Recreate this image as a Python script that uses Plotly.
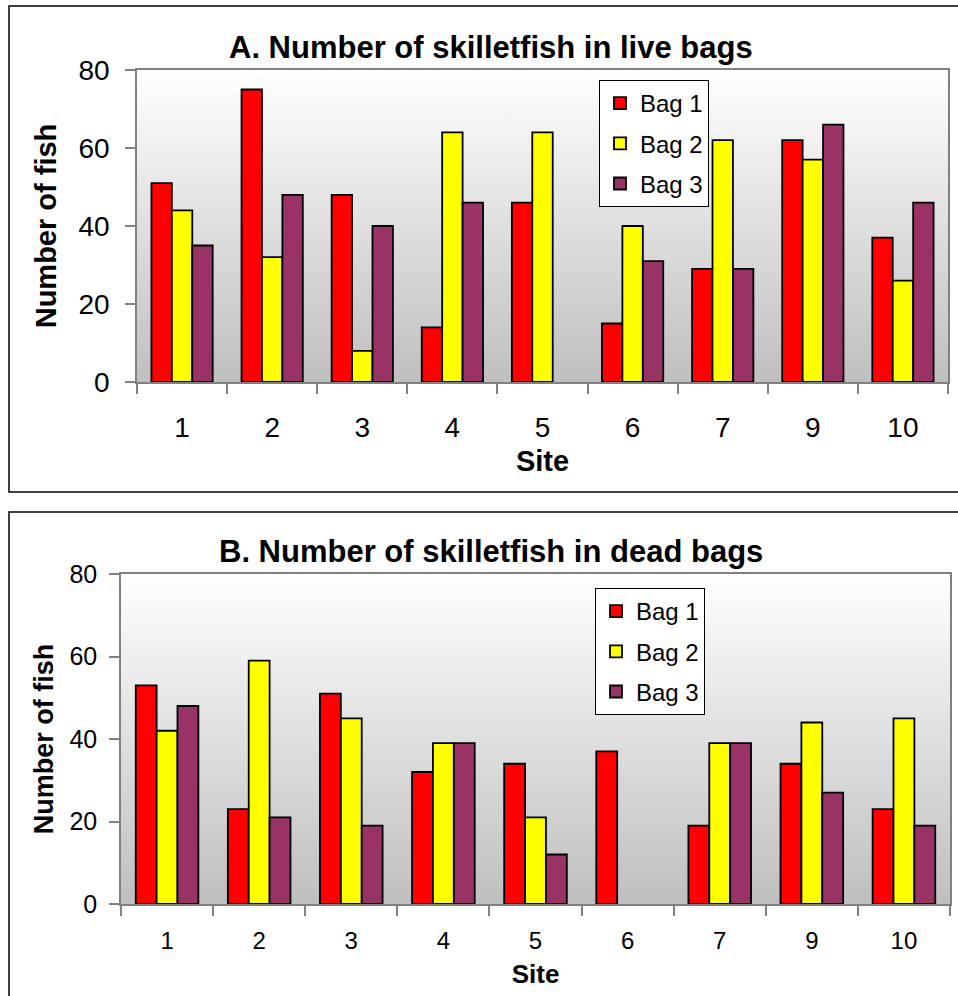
import base64
import plotly.graph_objects as go

sites = ["1", "2", "3", "4", "5", "6", "7", "9", "10"]
bag_names = ["Bag 1", "Bag 2", "Bag 3"]
bag_colors = ["#FF0000", "#FFFF00", "#993366"]

live_bag1 = [51, 75, 48, 14, 46, 15, 29, 62, 37]
live_bag2 = [44, 32, 8, 64, 64, 40, 62, 57, 26]
live_bag3 = [35, 48, 40, 46, 0, 31, 29, 66, 46]

dead_bag1 = [53, 23, 51, 32, 34, 37, 19, 34, 23]
dead_bag2 = [42, 59, 45, 39, 21, 0, 39, 44, 45]
dead_bag3 = [48, 21, 19, 39, 12, 0, 39, 27, 19]

y_ticks = [0, 20, 40, 60, 80]

W, H = 958, 996
FONT = "Liberation Sans, Arial, sans-serif"

def px_x(p):
    return p / W

def px_y(p):
    return 1 - p / H

def nz(vals):
    # zero-height bars are not drawn (no outline line on the axis)
    return [v if v != 0 else None for v in vals]

fig = go.Figure()

live = [live_bag1, live_bag2, live_bag3]
dead = [dead_bag1, dead_bag2, dead_bag3]
for i, name in enumerate(bag_names):
    fig.add_trace(go.Bar(
        x=sites, y=nz(live[i]), name=name, xaxis="x", yaxis="y",
        marker=dict(color=bag_colors[i], line=dict(color="#000000", width=1.8)),
        legend="legend", legendgroup="a" + str(i)))
for i, name in enumerate(bag_names):
    fig.add_trace(go.Bar(
        x=sites, y=nz(dead[i]), name=name, xaxis="x2", yaxis="y2",
        marker=dict(color=bag_colors[i], line=dict(color="#000000", width=1.8)),
        legend="legend2", legendgroup="b" + str(i)))

svg = ('<svg xmlns="http://www.w3.org/2000/svg" width="100" height="100" preserveAspectRatio="none">'
       '<defs><linearGradient id="g" x1="0" y1="0" x2="0" y2="1">'
       '<stop offset="0" stop-color="#ffffff"/><stop offset="1" stop-color="#bfbfbf"/>'
       '</linearGradient></defs><rect width="100" height="100" fill="url(#g)"/></svg>')
src = "data:image/svg+xml;base64," + base64.b64encode(svg.encode()).decode()

images = []
for xr, yr in [("x domain", "y domain"), ("x2 domain", "y2 domain")]:
    images.append(dict(source=src, xref=xr, yref=yr, x=0, y=1, sizex=1, sizey=1,
                       xanchor="left", yanchor="top", sizing="stretch", layer="below"))

shapes = [
    dict(type="rect", xref="paper", yref="paper", x0=px_x(9), x1=px_x(975), y0=px_y(492), y1=px_y(6),
         line=dict(color="#000000", width=1.5), fillcolor="rgba(0,0,0,0)", layer="below"),
    dict(type="rect", xref="paper", yref="paper", x0=px_x(9), x1=px_x(975), y0=px_y(1010), y1=px_y(512),
         line=dict(color="#000000", width=1.5), fillcolor="rgba(0,0,0,0)", layer="below"),
]

def xaxis(domain, anchor, size, tsize, lstand, tstand):
    return dict(domain=domain, anchor=anchor, type="category", tickson="boundaries",
                ticks="outside", ticklen=10, tickcolor="#808080", tickwidth=1.5,
                showline=True, linecolor="#808080", linewidth=1.5, mirror=True,
                showgrid=False, automargin=False, ticklabelstandoff=lstand,
                tickfont=dict(family=FONT, size=size, color="#000000"),
                title=dict(text="<b>Site</b>", font=dict(family=FONT, size=tsize, color="#000000"),
                           standoff=tstand))

def yaxis(domain, anchor, size, tsize, lstand, tstand):
    return dict(domain=domain, anchor=anchor, range=[0, 80], tickvals=y_ticks,
                ticks="outside", ticklen=10, tickcolor="#808080", tickwidth=1.5,
                showline=True, linecolor="#808080", linewidth=1.5, mirror=True,
                showgrid=False, zeroline=False, automargin=False, ticklabelstandoff=lstand,
                tickfont=dict(family=FONT, size=size, color="#000000"),
                title=dict(text="<b>Number of fish</b>", font=dict(family=FONT, size=tsize, color="#000000"),
                           standoff=tstand))

fig.update_layout(
    width=W, height=H, margin=dict(l=0, r=0, t=0, b=0, autoexpand=False),
    paper_bgcolor="#ffffff", plot_bgcolor="rgba(0,0,0,0)",
    barmode="group", bargap=0.32, bargroupgap=0,
    showlegend=True,
    xaxis=xaxis([px_x(137), px_x(948)], "y", 28, 29, 20, 8),
    yaxis=yaxis([px_y(382), px_y(70)], "x", 28, 29, 10, 13),
    xaxis2=xaxis([px_x(121), px_x(950)], "y2", 24, 26, 14, 12),
    yaxis2=yaxis([px_y(904), px_y(574)], "x2", 25, 27, 7, 8),
    legend=dict(x=px_x(599), y=px_y(80), xanchor="left", yanchor="top",
                bgcolor="#ffffff", bordercolor="#000000", borderwidth=1,
                font=dict(family=FONT, size=24, color="#000000"), tracegroupgap=6),
    legend2=dict(x=px_x(595), y=px_y(588), xanchor="left", yanchor="top",
                 bgcolor="#ffffff", bordercolor="#000000", borderwidth=1,
                 font=dict(family=FONT, size=24, color="#000000"), tracegroupgap=6),
    images=images,
    shapes=shapes,
    annotations=[
        dict(text="<b>A. Number of skilletfish in live bags</b>", xref="paper", yref="paper",
             x=px_x(491), y=px_y(47), xanchor="center", yanchor="middle", showarrow=False,
             font=dict(family=FONT, size=31, color="#000000")),
        dict(text="<b>B. Number of skilletfish in dead bags</b>", xref="paper", yref="paper",
             x=px_x(491), y=px_y(551), xanchor="center", yanchor="middle", showarrow=False,
             font=dict(family=FONT, size=31, color="#000000")),
    ],
)

fig.write_html("out.html")
